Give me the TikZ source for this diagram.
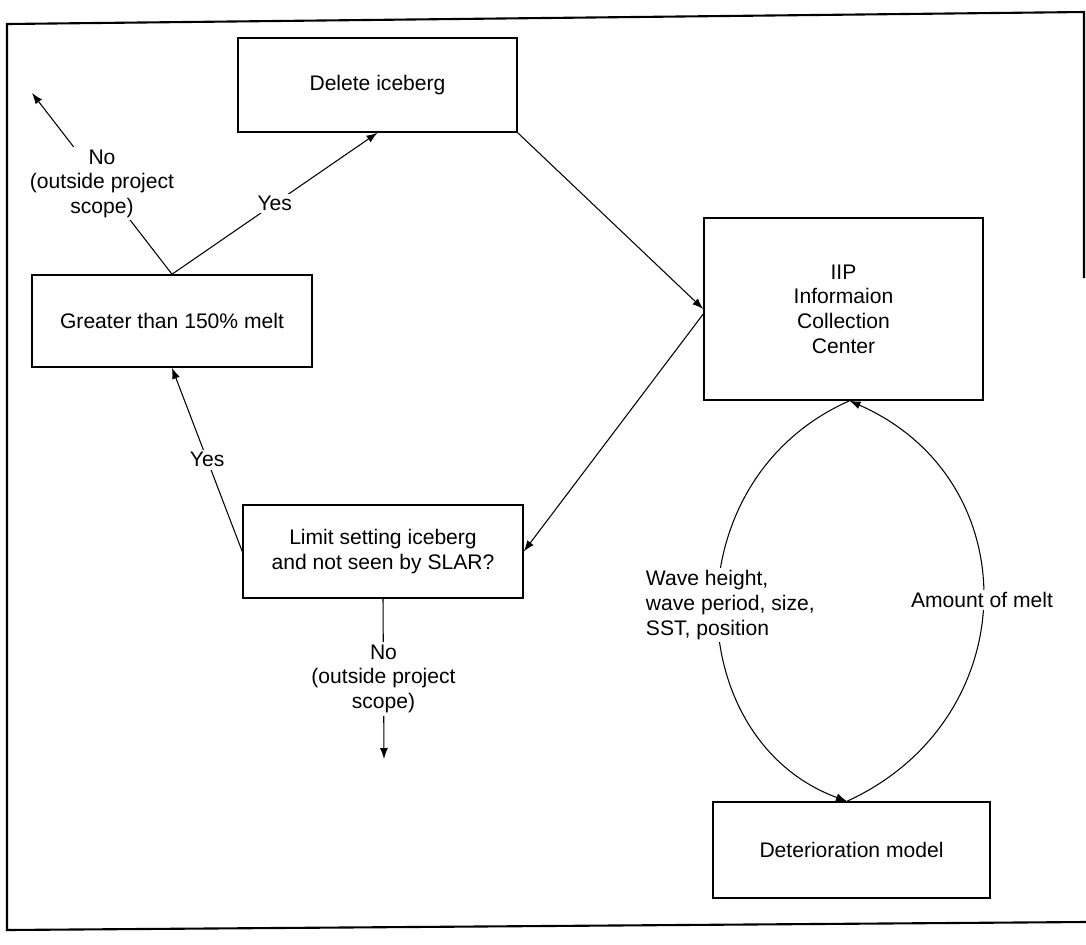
\documentclass[tikz,border=0pt]{standalone}
\usepackage{fontspec}
\setmainfont{Liberation Sans}
\usepackage{tikz}
\usetikzlibrary{arrows.meta}
\usetikzlibrary{positioning}

\begin{document}
\begin{tikzpicture}[x=0.02cm, y=-0.02cm, font=\fontsize{12}{14}\selectfont, kasten/.style={draw, line width=0.9pt, align=center, inner sep=2pt}, pfeil/.style={-{Latex[length=2.2mm, width=1.6mm]}, line width=0.6pt}, marke/.style={fill=white, align=center, inner sep=1.5pt}]
	\useasboundingbox (0,0) rectangle (1086,944);
	\draw[line width=1.2pt] (1084,278) -- (1084,12) -- (7,24) -- (7,930) -- (1086,922);
	\node[kasten, minimum width=5.58cm, minimum height=1.88cm] (del) at (377.5,85) {Delete iceberg};
	\node[kasten, minimum width=5.6cm, minimum height=1.84cm] (gt) at (172,321) {Greater than 150\% melt};
	\node[kasten, minimum width=5.6cm, minimum height=1.86cm] (lim) at (383,551.5) {Limit setting iceberg\\and not seen by SLAR?};
	\node[kasten, minimum width=5.58cm, minimum height=3.64cm] (iip) at (843.5,309) {IIP\\Informaion\\Collection\\Center};
	\node[kasten, minimum width=5.54cm, minimum height=1.92cm] (det) at (851.5,850) {Deterioration model};
	\coordinate (raus1) at (32,93);
	\coordinate (raus2) at (384,759);
	\draw[pfeil] (gt.north) -- node[marke] {Yes} (del.south);
	\draw[pfeil] (gt.north) -- node[marke] {No\\(outside project\\scope)} (raus1);
	\draw[pfeil] (del.south east) -- (iip.west);
	\draw[pfeil] ([yshift=-0.1cm]iip.west) -- (lim.east);
	\draw[pfeil] (lim.west) -- node[marke] {Yes} (gt.south);
	\draw[pfeil] (lim.south) -- node[marke] {No\\(outside project\\scope)} (raus2);
	\draw[pfeil] ([xshift=0.12cm]iip.south) .. controls (670,480) and (680,740) .. ([xshift=-0.09cm]det.north);
	\draw[pfeil] ([xshift=-0.09cm]det.north) .. controls (1025,720) and (1030,480) .. ([xshift=0.12cm]iip.south);
	\node[marke, anchor=west, align=left] (welle) at (643,605) {Wave height,\\wave period, size,\\SST, position};
	\node[marke] (menge) at (982,600) {Amount of melt};
\end{tikzpicture}
\end{document}
